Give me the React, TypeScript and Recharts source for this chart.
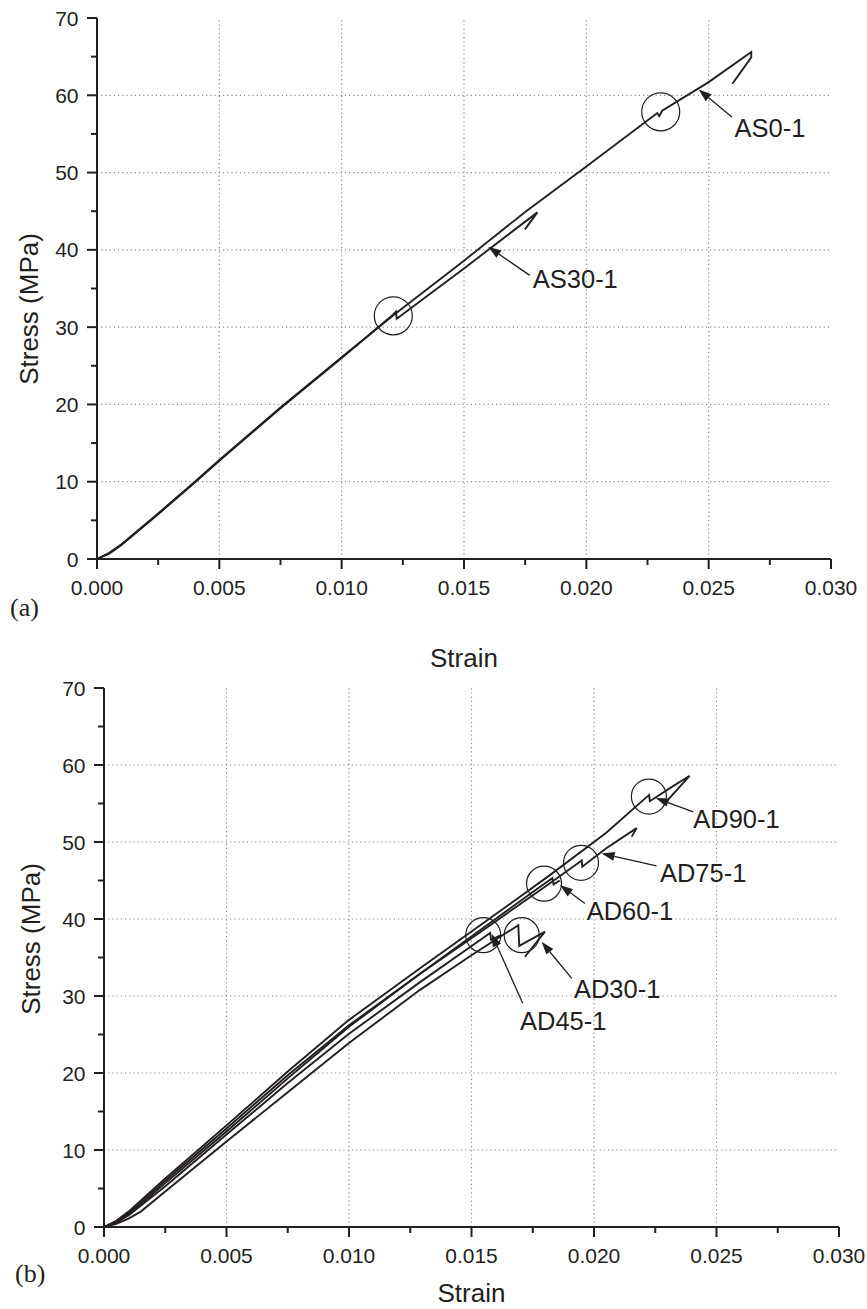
import { LineChart, Line, XAxis, YAxis, ReferenceLine, ReferenceDot } from 'recharts';

const INK = '#231f20';
const SANS = '"Liberation Sans", Arial, sans-serif';
const SERIF = '"Liberation Serif", "Times New Roman", serif';

const STRAIN_TICKS = [0, 0.005, 0.01, 0.015, 0.02, 0.025, 0.03];
const STRAIN_MINOR = [0.0025, 0.0075, 0.0125, 0.0175, 0.0225, 0.0275];
const STRESS_TICKS = [0, 10, 20, 30, 40, 50, 60, 70];
const STRESS_MINOR = [5, 15, 25, 35, 45, 55, 65];

// panel (a)
const AS0_STRAIN = [0, 0.0005, 0.001, 0.0025, 0.004, 0.005, 0.0075, 0.01, 0.0121, 0.015, 0.0175, 0.02, 0.0229, 0.02298, 0.0231, 0.025, 0.02674, 0.02674, 0.02597];
const AS0_STRESS = [0, 0.8, 1.9, 5.9, 10.0, 12.8, 19.6, 26.1, 31.5, 38.6, 44.9, 50.8, 57.7, 57.3, 58.0, 61.7, 65.6, 64.9, 61.5];
const AS30_STRAIN = [0, 0.0005, 0.001, 0.0025, 0.004, 0.005, 0.0075, 0.01, 0.0121, 0.01222, 0.01225, 0.015, 0.018, 0.01749];
const AS30_STRESS = [0, 0.7, 1.8, 5.8, 9.9, 12.7, 19.5, 26.0, 31.6, 32.0, 31.1, 37.6, 44.85, 42.65];

// panel (b)
const AD90_STRAIN = [0, 0.0005, 0.001, 0.0025, 0.005, 0.0075, 0.01, 0.0129, 0.0155, 0.0182, 0.0205, 0.0221, 0.02225, 0.02228, 0.0231, 0.0239, 0.023];
const AD90_STRESS = [0, 0.8, 2.0, 6.3, 13.2, 20.2, 26.9, 33.6, 39.5, 45.7, 51.2, 55.7, 56.1, 55.3, 57.0, 58.6, 55.4];
const AD75_STRAIN = [0, 0.0005, 0.001, 0.0025, 0.005, 0.0075, 0.01, 0.0129, 0.0155, 0.018, 0.0195, 0.01952, 0.0205, 0.02174, 0.02154];
const AD75_STRESS = [0, 0.7, 1.8, 6.0, 12.8, 19.7, 26.2, 32.9, 38.6, 44.2, 47.6, 46.8, 49.2, 51.8, 50.7];
const AD60_STRAIN = [0, 0.0005, 0.001, 0.0025, 0.005, 0.0075, 0.01, 0.0129, 0.0155, 0.0178, 0.0183, 0.01835, 0.0186];
const AD60_STRESS = [0, 0.6, 1.6, 5.7, 12.4, 19.3, 26.0, 32.9, 38.9, 44.2, 45.3, 44.5, 45.0];
const AD45_STRAIN = [0, 0.0005, 0.001, 0.0025, 0.005, 0.0075, 0.01, 0.0129, 0.0155, 0.01576, 0.0158, 0.0162];
const AD45_STRESS = [0, 0.6, 1.5, 5.3, 12.0, 18.7, 25.1, 31.8, 37.6, 38.2, 37.3, 37.9];
const AD30_STRAIN = [0, 0.0005, 0.001, 0.0015, 0.0025, 0.005, 0.0075, 0.01, 0.0129, 0.015, 0.01691, 0.01695, 0.018, 0.01718];
const AD30_STRESS = [0, 0.4, 1.1, 2.0, 4.6, 11.1, 17.5, 23.9, 30.8, 35.3, 39.2, 36.5, 38.35, 35.1];

type Pt = [number, number];
type Note = { name: string; circle: Pt; tail: Pt; tip: Pt; text: Pt };

const NOTES_A: Note[] = [
  { name: 'AS0-1', circle: [0.02304, 57.86], tail: [0.02595, 57.2], tip: [0.02459, 60.76], text: [0.02606, 54.6] },
  { name: 'AS30-1', circle: [0.01211, 31.47], tail: [0.01769, 36.7], tip: [0.01599, 40.4], text: [0.01781, 35.06] },
];
const NOTES_B: Note[] = [
  { name: 'AD90-1', circle: [0.02224, 55.9], tail: [0.02405, 53.9], tip: [0.02252, 55.7], text: [0.02405, 51.8] },
  { name: 'AD75-1', circle: [0.01947, 47.3], tail: [0.02255, 46.9], tip: [0.02031, 48.5], text: [0.02269, 44.85] },
  { name: 'AD60-1', circle: [0.01796, 44.6], tail: [0.01963, 42.0], tip: [0.01861, 44.4], text: [0.0197, 39.9] },
  { name: 'AD45-1', circle: [0.01548, 37.9], tail: [0.01709, 29.05], tip: [0.01582, 38.1], text: [0.01698, 25.6] },
  { name: 'AD30-1', circle: [0.01705, 37.9], tail: [0.01909, 32.3], tip: [0.01786, 37.05], text: [0.01918, 29.7] },
];

const toRows = (strain: number[], stress: number[]) => strain.map((s, i) => ({ strain: s, stress: stress[i] }));

const X_ALL = [...STRAIN_TICKS, ...STRAIN_MINOR].sort((a, b) => a - b);
const Y_ALL = [...STRESS_TICKS, ...STRESS_MINOR].sort((a, b) => a - b);

function Arrow(p: any) {
  const { x1, y1, x2, y2 } = p;
  const dx = x2 - x1, dy = y2 - y1;
  const len = Math.hypot(dx, dy) || 1;
  const ux = dx / len, uy = dy / len;
  const hl = 13, hw = 4.5;
  const bx = x2 - ux * hl, by = y2 - uy * hl;
  const pts = `${x2},${y2} ${bx - uy * hw},${by + ux * hw} ${bx + uy * hw},${by - ux * hw}`;
  return (
    <g>
      <line x1={x1} y1={y1} x2={bx} y2={by} stroke={INK} strokeWidth={1.3} />
      <polygon points={pts} fill={INK} />
    </g>
  );
}

const tickLen = (major: boolean) => (major ? 10 : 6);

function bottomTick(p: any) {
  const v = p.payload.value;
  const major = STRAIN_TICKS.includes(v);
  return (
    <g>
      <line x1={p.x} x2={p.x} y1={p.y} y2={p.y + tickLen(major)} stroke={INK} strokeWidth={2} />
      {major && (
        <text x={p.x} y={p.y + 35.5} textAnchor="middle" fontFamily={SANS} fontSize={21} fill={INK}>
          {v.toFixed(3)}
        </text>
      )}
    </g>
  );
}
function topTick(p: any) {
  const major = STRAIN_TICKS.includes(p.payload.value);
  return <line x1={p.x} x2={p.x} y1={p.y} y2={p.y + tickLen(major)} stroke={INK} strokeWidth={2} />;
}
function leftTick(p: any) {
  const v = p.payload.value;
  const major = STRESS_TICKS.includes(v);
  return (
    <g>
      <line x1={p.x} x2={p.x - tickLen(major)} y1={p.y} y2={p.y} stroke={INK} strokeWidth={2} />
      {major && (
        <text x={p.x - 18.5} y={p.y + 7.5} textAnchor="end" fontFamily={SANS} fontSize={21} fill={INK}>
          {v}
        </text>
      )}
    </g>
  );
}
function rightTick(p: any) {
  const major = STRESS_TICKS.includes(p.payload.value);
  return <line x1={p.x} x2={p.x - tickLen(major)} y1={p.y} y2={p.y} stroke={INK} strokeWidth={2} />;
}

type Plot = { left: number; right: number; top: number; bottom: number };

function Panel({ top, height, plot, xAxisH, series, notes, r, yTitle, xTitleY, tag }: {
  top: number; height: number; plot: Plot; xAxisH: number;
  series: { strain: number[]; stress: number[] }[]; notes: Note[]; r: number;
  yTitle: { x: number; y: number }; xTitleY: number; tag: { text: string; x: number; y: number };
}) {
  const W = 867, YW = 90;
  const margin = { top: plot.top, right: W - plot.right, left: plot.left - YW, bottom: height - plot.bottom - xAxisH };
  const axisLine = { stroke: INK, strokeWidth: 2 };
  return (
    <div style={{ position: 'absolute', left: 0, top, width: W, height }}>
      <LineChart width={W} height={height} margin={margin}>
        {STRAIN_TICKS.slice(1, -1).map((v) => (
          <ReferenceLine key={'gx' + v} x={v} stroke="#8c8c8c" strokeWidth={1.2} strokeDasharray="1.2 3" />
        ))}
        {STRESS_TICKS.slice(1, -1).map((v) => (
          <ReferenceLine key={'gy' + v} y={v} stroke="#8c8c8c" strokeWidth={1.2} strokeDasharray="1.2 3" />
        ))}
        <XAxis
          dataKey="strain" type="number" domain={[0, 0.03]} allowDataOverflow ticks={X_ALL} interval={0}
          height={xAxisH} tickSize={0} tickMargin={0} tickLine={false} axisLine={axisLine} tick={bottomTick}
          label={({ viewBox }: any) => (
            <text x={viewBox.x + viewBox.width / 2} y={xTitleY} textAnchor="middle" fontFamily={SANS} fontSize={26} fill={INK}>
              Strain
            </text>
          )}
        />
        <XAxis
          xAxisId="top" orientation="top" type="number" domain={[0, 0.03]} allowDataOverflow ticks={X_ALL} interval={0}
          height={0} tickSize={0} tickMargin={0} tickLine={false} axisLine={axisLine} tick={topTick}
        />
        <YAxis
          type="number" domain={[0, 70]} allowDataOverflow ticks={Y_ALL} interval={0}
          width={YW} tickSize={0} tickMargin={0} tickLine={false} axisLine={axisLine} tick={leftTick}
          label={() => (
            <text x={0} y={0} transform={`translate(${yTitle.x}, ${yTitle.y}) rotate(-90)`} textAnchor="middle" fontFamily={SANS} fontSize={26} fill={INK}>
              Stress (MPa)
            </text>
          )}
        />
        <YAxis
          yAxisId="right" orientation="right" type="number" domain={[0, 70]} allowDataOverflow ticks={Y_ALL} interval={0}
          width={0} tickSize={0} tickMargin={0} tickLine={false} axisLine={axisLine} tick={rightTick}
        />
        {series.map((s, i) => (
          <Line
            key={i} data={toRows(s.strain, s.stress)} dataKey="stress" type="linear"
            stroke={INK} strokeWidth={1.9} dot={false} activeDot={false} isAnimationActive={false}
          />
        ))}
        {notes.map((n) => (
          <ReferenceDot key={'c' + n.name} x={n.circle[0]} y={n.circle[1]} r={r} fill="none" stroke={INK} strokeWidth={1.2} />
        ))}
        {notes.map((n) => (
          <ReferenceLine
            key={'a' + n.name}
            segment={[{ x: n.tail[0], y: n.tail[1] }, { x: n.tip[0], y: n.tip[1] }]}
            shape={Arrow}
          />
        ))}
        {notes.map((n) => (
          <ReferenceDot
            key={'t' + n.name} x={n.text[0]} y={n.text[1]} r={1}
            shape={(p: any) => (
              <text x={p.cx} y={p.cy} fontFamily={SANS} fontSize={25.5} fill={INK}>
                {n.name}
              </text>
            )}
          />
        ))}
      </LineChart>
      <svg width={60} height={40} style={{ position: 'absolute', left: 0, top: tag.y - top - 28 }}>
        <text x={tag.x} y={28} fontFamily={SERIF} fontSize={26} fill={INK}>
          {tag.text}
        </text>
      </svg>
    </div>
  );
}

export default function App() {
  return (
    <div style={{ position: 'absolute', left: 0, top: 0, width: 867, height: 1309, background: '#fff' }}>
      <Panel
        top={0} height={680} xAxisH={110}
        plot={{ left: 97, right: 831, top: 18, bottom: 559 }}
        series={[{ strain: AS0_STRAIN, stress: AS0_STRESS }, { strain: AS30_STRAIN, stress: AS30_STRESS }]}
        notes={NOTES_A} r={19}
        yTitle={{ x: 38, y: 309 }} xTitleY={667}
        tag={{ text: '(a)', x: 10, y: 616 }}
      />
      <Panel
        top={620} height={689} xAxisH={80}
        plot={{ left: 104, right: 839, top: 68, bottom: 607 }}
        series={[
          { strain: AD90_STRAIN, stress: AD90_STRESS },
          { strain: AD75_STRAIN, stress: AD75_STRESS },
          { strain: AD60_STRAIN, stress: AD60_STRESS },
          { strain: AD45_STRAIN, stress: AD45_STRESS },
          { strain: AD30_STRAIN, stress: AD30_STRESS },
        ]}
        notes={NOTES_B} r={17.5}
        yTitle={{ x: 40, y: 319 }} xTitleY={682}
        tag={{ text: '(b)', x: 15, y: 1282 }}
      />
    </div>
  );
}
